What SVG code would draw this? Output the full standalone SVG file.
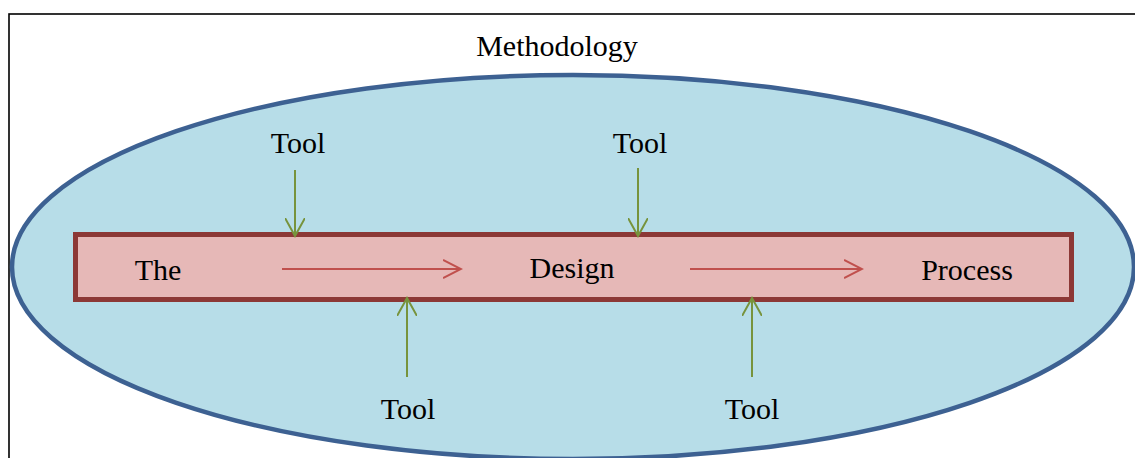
<svg xmlns="http://www.w3.org/2000/svg" width="1135" height="458" viewBox="0 0 1135 458">
<style>
.t{font-family:"Liberation Serif","Times New Roman",serif;font-size:30px;fill:#000;text-anchor:middle}
.g{stroke:#77933c;stroke-width:2;fill:none}
.r{stroke:#c0504d;stroke-width:2;fill:none}
</style>
<defs>
<marker id="ag" markerWidth="20" markerHeight="20" refX="18" refY="10" viewBox="0 0 20 20" orient="auto" markerUnits="userSpaceOnUse">
<path d="M0,0 L18,10 L0,20" stroke="#77933c" stroke-width="2" fill="none"/>
</marker>
<marker id="ar" markerWidth="20" markerHeight="20" refX="18" refY="10" viewBox="0 0 20 20" orient="auto" markerUnits="userSpaceOnUse">
<path d="M0,1 L18,10 L0,19" stroke="#c0504d" stroke-width="2" fill="none"/>
</marker>
</defs>
<rect x="0" y="0" width="1135" height="458" fill="#fff"/>
<rect id="frame" x="9" y="14" width="1140" height="460" fill="none" stroke="#000" stroke-width="1.6"/>
<g id="methodology">
<ellipse cx="573" cy="267" rx="561" ry="192" fill="#b7dde8" stroke="#3d6192" stroke-width="4.5"/>
<text class="t" x="557" y="56">Methodology</text>
</g>
<g id="process-bar">
<rect x="75.5" y="234.5" width="996" height="65" fill="#e6b8b7" stroke="#8c3836" stroke-width="5"/>
<text class="t" x="158" y="280">The</text>
<text class="t" x="572" y="278">Design</text>
<text class="t" x="967" y="280">Process</text>
</g>
<g id="tool-top-1"><text class="t" x="298" y="153">Tool</text></g>
<g id="tool-top-2"><text class="t" x="640" y="153">Tool</text></g>
<g id="tool-bottom-1"><text class="t" x="408" y="419">Tool</text></g>
<g id="tool-bottom-2"><text class="t" x="752" y="419">Tool</text></g>
<g id="connectors">
<line class="r" x1="282" y1="269" x2="461" y2="269" marker-end="url(#ar)"/>
<line class="r" x1="690" y1="269" x2="862" y2="269" marker-end="url(#ar)"/>
<line class="g" x1="295" y1="170" x2="295" y2="236" marker-end="url(#ag)"/>
<line class="g" x1="638" y1="168" x2="638" y2="236" marker-end="url(#ag)"/>
<line class="g" x1="407" y1="377" x2="407" y2="298" marker-end="url(#ag)"/>
<line class="g" x1="752" y1="377" x2="752" y2="298" marker-end="url(#ag)"/>
</g>
</svg>
